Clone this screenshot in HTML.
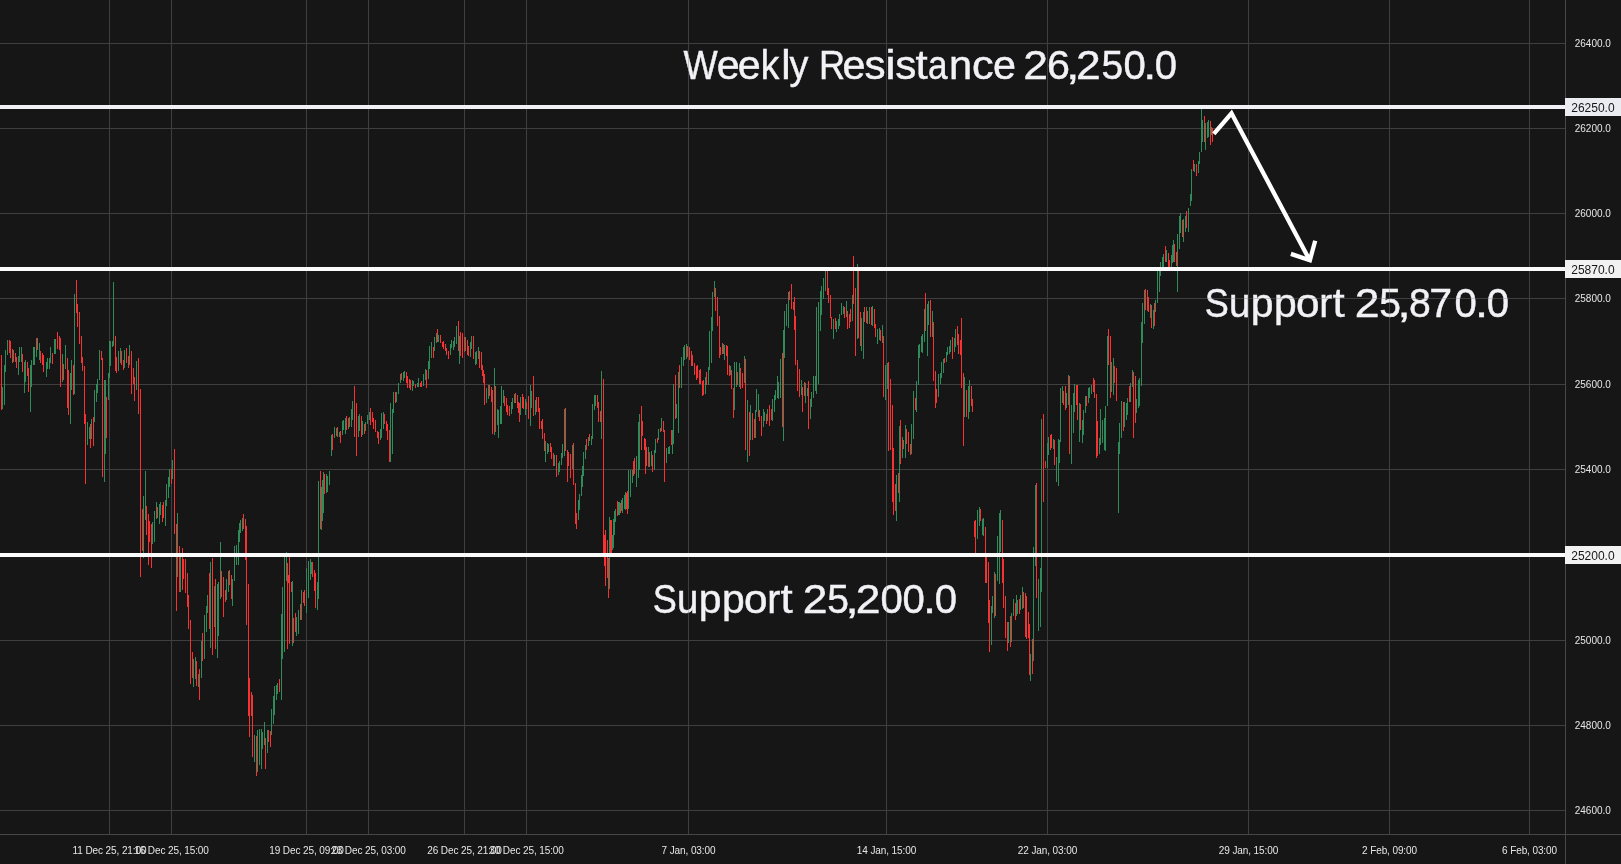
<!DOCTYPE html>
<html><head><meta charset="utf-8"><title>Chart</title>
<style>
html,body{margin:0;padding:0;background:#161616;}
body{width:1621px;height:864px;overflow:hidden;font-family:"Liberation Sans",sans-serif;}
svg{display:block;will-change:transform;}
.g{stroke:rgba(132,132,132,0.38);stroke-width:1;shape-rendering:crispEdges;}
.a{stroke:#484848;stroke-width:1;shape-rendering:crispEdges;}
.r{fill:#f73232;shape-rendering:crispEdges;}
.u{fill:#2f8c5a;shape-rendering:crispEdges;}
.w{fill:#f1f1f6;shape-rendering:crispEdges;}
.pl{font-size:10px;fill:#e6e6e6;text-anchor:middle;}
.bl{font-size:12px;fill:#161616;text-anchor:middle;}
.big{fill:#f1f1f6;stroke:#f1f1f6;stroke-width:0.45;}
.tl{letter-spacing:-0.1px;}
</style></head>
<body>
<svg width="1621" height="864" viewBox="0 0 1621 864" font-family="Liberation Sans, sans-serif">
<rect x="0" y="0" width="1621" height="864" fill="#161616"/>
<g class="big" font-size="41">
<text y="79.3"><tspan x="683.4" textLength="34.18" lengthAdjust="spacingAndGlyphs">W</tspan><tspan x="716.7" textLength="22.94" lengthAdjust="spacingAndGlyphs">e</tspan><tspan x="737.7" textLength="22.94" lengthAdjust="spacingAndGlyphs">e</tspan><tspan x="760.7" textLength="18.56" lengthAdjust="spacingAndGlyphs">k</tspan><tspan x="781.3" textLength="9.33" lengthAdjust="spacingAndGlyphs">l</tspan><tspan x="789.6" textLength="18.90" lengthAdjust="spacingAndGlyphs">y</tspan> <tspan x="818.9" textLength="26.12" lengthAdjust="spacingAndGlyphs">R</tspan><tspan x="842.6" textLength="22.94" lengthAdjust="spacingAndGlyphs">e</tspan><tspan x="864.6" textLength="21.11" lengthAdjust="spacingAndGlyphs">s</tspan><tspan x="885.2" textLength="10.48" lengthAdjust="spacingAndGlyphs">i</tspan><tspan x="895.2" textLength="21.11" lengthAdjust="spacingAndGlyphs">s</tspan><tspan x="915.5" textLength="12.21" lengthAdjust="spacingAndGlyphs">t</tspan><tspan x="928.1" textLength="19.57" lengthAdjust="spacingAndGlyphs">a</tspan><tspan x="949.1" textLength="23.13" lengthAdjust="spacingAndGlyphs">n</tspan><tspan x="972.0" textLength="21.59" lengthAdjust="spacingAndGlyphs">c</tspan><tspan x="992.9" textLength="22.94" lengthAdjust="spacingAndGlyphs">e</tspan> <tspan x="1023.2" textLength="24.74" lengthAdjust="spacingAndGlyphs">2</tspan><tspan x="1047.0" textLength="22.96" lengthAdjust="spacingAndGlyphs">6</tspan><tspan x="1066.3" textLength="13.10" lengthAdjust="spacingAndGlyphs">,</tspan><tspan x="1075.9" textLength="24.74" lengthAdjust="spacingAndGlyphs">2</tspan><tspan x="1101.4" textLength="21.71" lengthAdjust="spacingAndGlyphs">5</tspan><tspan x="1123.5" textLength="22.31" lengthAdjust="spacingAndGlyphs">0</tspan><tspan x="1143.3" textLength="13.10" lengthAdjust="spacingAndGlyphs">.</tspan><tspan x="1154.7" textLength="22.31" lengthAdjust="spacingAndGlyphs">0</tspan></text>
<text y="316.9"><tspan x="1204.7" textLength="24.08" lengthAdjust="spacingAndGlyphs">S</tspan><tspan x="1229.1" textLength="21.34" lengthAdjust="spacingAndGlyphs">u</tspan><tspan x="1250.8" textLength="22.73" lengthAdjust="spacingAndGlyphs">p</tspan><tspan x="1274.0" textLength="22.73" lengthAdjust="spacingAndGlyphs">p</tspan><tspan x="1296.0" textLength="23.52" lengthAdjust="spacingAndGlyphs">o</tspan><tspan x="1319.2" textLength="13.06" lengthAdjust="spacingAndGlyphs">r</tspan><tspan x="1332.5" textLength="12.21" lengthAdjust="spacingAndGlyphs">t</tspan> <tspan x="1354.8" textLength="24.74" lengthAdjust="spacingAndGlyphs">2</tspan><tspan x="1379.3" textLength="21.71" lengthAdjust="spacingAndGlyphs">5</tspan><tspan x="1397.6" textLength="13.10" lengthAdjust="spacingAndGlyphs">,</tspan><tspan x="1409.0" textLength="21.78" lengthAdjust="spacingAndGlyphs">8</tspan><tspan x="1429.3" textLength="22.85" lengthAdjust="spacingAndGlyphs">7</tspan><tspan x="1454.5" textLength="22.31" lengthAdjust="spacingAndGlyphs">0</tspan><tspan x="1474.9" textLength="13.10" lengthAdjust="spacingAndGlyphs">.</tspan><tspan x="1486.8" textLength="22.31" lengthAdjust="spacingAndGlyphs">0</tspan></text>
<text y="612.7"><tspan x="652.7" textLength="24.08" lengthAdjust="spacingAndGlyphs">S</tspan><tspan x="677.1" textLength="21.34" lengthAdjust="spacingAndGlyphs">u</tspan><tspan x="698.8" textLength="22.73" lengthAdjust="spacingAndGlyphs">p</tspan><tspan x="722.0" textLength="22.73" lengthAdjust="spacingAndGlyphs">p</tspan><tspan x="744.0" textLength="23.52" lengthAdjust="spacingAndGlyphs">o</tspan><tspan x="767.2" textLength="13.06" lengthAdjust="spacingAndGlyphs">r</tspan><tspan x="780.5" textLength="12.21" lengthAdjust="spacingAndGlyphs">t</tspan> <tspan x="802.7" textLength="24.74" lengthAdjust="spacingAndGlyphs">2</tspan><tspan x="827.3" textLength="21.71" lengthAdjust="spacingAndGlyphs">5</tspan><tspan x="845.6" textLength="13.10" lengthAdjust="spacingAndGlyphs">,</tspan><tspan x="855.8" textLength="24.74" lengthAdjust="spacingAndGlyphs">2</tspan><tspan x="880.4" textLength="22.31" lengthAdjust="spacingAndGlyphs">0</tspan><tspan x="902.5" textLength="22.31" lengthAdjust="spacingAndGlyphs">0</tspan><tspan x="922.9" textLength="13.10" lengthAdjust="spacingAndGlyphs">.</tspan><tspan x="934.8" textLength="22.31" lengthAdjust="spacingAndGlyphs">0</tspan></text>
</g>
<path class="g" fill="none" d="M109.5 0V834M171.5 0V834M306.5 0V834M368.5 0V834M464.5 0V834M526.5 0V834M688.5 0V834M886.5 0V834M1047.5 0V834M1248.5 0V834M1389.5 0V834M1529.5 0V834M0 43.5H1565M0 128.5H1565M0 213.5H1565M0 298.5H1565M0 384.5H1565M0 469.5H1565M0 554.5H1565M0 640.5H1565M0 725.5H1565M0 810.5H1565"/>
<g class="a"><line x1="0" y1="834.5" x2="1621" y2="834.5"/><line x1="1565.5" y1="0" x2="1565.5" y2="864"/></g>
<g>
<rect class="r" x="1" y="355" width="1" height="55"/><rect class="u" x="2" y="387" width="1" height="22"/><rect class="u" x="4" y="365" width="1" height="40"/><rect class="u" x="5" y="350" width="1" height="22"/><rect class="u" x="7" y="340" width="1" height="15"/><rect class="r" x="9" y="340" width="1" height="13"/><rect class="r" x="10" y="341" width="1" height="17"/><rect class="r" x="12" y="349" width="1" height="14"/>
<rect class="u" x="13" y="350" width="1" height="12"/><rect class="r" x="15" y="353" width="1" height="9"/><rect class="r" x="16" y="357" width="1" height="11"/><rect class="u" x="18" y="356" width="1" height="19"/><rect class="u" x="19" y="347" width="1" height="15"/><rect class="u" x="21" y="347" width="1" height="15"/><rect class="r" x="22" y="354" width="1" height="18"/><rect class="u" x="24" y="362" width="1" height="31"/>
<rect class="u" x="25" y="360" width="1" height="22"/><rect class="r" x="27" y="362" width="1" height="14"/><rect class="r" x="28" y="368" width="1" height="24"/><rect class="u" x="30" y="365" width="1" height="47"/><rect class="u" x="31" y="360" width="1" height="27"/><rect class="u" x="33" y="347" width="1" height="18"/><rect class="u" x="34" y="347" width="1" height="18"/><rect class="u" x="36" y="338" width="1" height="19"/>
<rect class="r" x="37" y="338" width="1" height="12"/><rect class="u" x="39" y="343" width="1" height="17"/><rect class="r" x="40" y="351" width="1" height="12"/><rect class="r" x="42" y="353" width="1" height="12"/><rect class="r" x="43" y="355" width="1" height="17"/><rect class="u" x="46" y="362" width="1" height="15"/><rect class="u" x="47" y="358" width="1" height="11"/><rect class="u" x="49" y="358" width="1" height="11"/>
<rect class="u" x="50" y="347" width="1" height="16"/><rect class="r" x="52" y="353" width="1" height="11"/><rect class="u" x="54" y="339" width="1" height="15"/><rect class="u" x="55" y="339" width="1" height="15"/><rect class="r" x="57" y="332" width="1" height="17"/><rect class="r" x="59" y="336" width="1" height="14"/><rect class="r" x="60" y="338" width="1" height="49"/><rect class="u" x="62" y="354" width="1" height="28"/>
<rect class="r" x="63" y="364" width="1" height="16"/><rect class="u" x="65" y="345" width="1" height="24"/><rect class="r" x="67" y="358" width="1" height="50"/><rect class="r" x="68" y="370" width="1" height="45"/><rect class="u" x="70" y="373" width="1" height="51"/><rect class="u" x="71" y="360" width="1" height="30"/><rect class="r" x="73" y="365" width="1" height="30"/><rect class="u" x="74" y="294" width="1" height="100"/>
<rect class="r" x="76" y="280" width="1" height="33"/><rect class="r" x="77" y="304" width="1" height="23"/><rect class="r" x="79" y="312" width="1" height="32"/><rect class="r" x="81" y="336" width="1" height="27"/><rect class="r" x="82" y="357" width="1" height="14"/><rect class="r" x="84" y="366" width="1" height="58"/><rect class="r" x="85" y="414" width="1" height="70"/><rect class="u" x="87" y="422" width="1" height="23"/>
<rect class="u" x="89" y="427" width="1" height="12"/><rect class="r" x="90" y="424" width="1" height="24"/><rect class="u" x="91" y="419" width="1" height="20"/><rect class="r" x="93" y="417" width="1" height="29"/><rect class="u" x="94" y="390" width="1" height="32"/><rect class="u" x="96" y="384" width="1" height="18"/><rect class="u" x="97" y="379" width="1" height="14"/><rect class="u" x="99" y="350" width="1" height="30"/>
<rect class="r" x="101" y="351" width="1" height="9"/><rect class="r" x="102" y="358" width="1" height="119"/><rect class="u" x="104" y="380" width="1" height="102"/><rect class="u" x="105" y="380" width="1" height="74"/><rect class="r" x="106" y="397" width="1" height="41"/><rect class="u" x="108" y="373" width="1" height="27"/><rect class="u" x="109" y="341" width="1" height="37"/><rect class="u" x="110" y="341" width="1" height="25"/>
<rect class="u" x="112" y="341" width="1" height="6"/><rect class="u" x="113" y="282" width="1" height="64"/><rect class="r" x="115" y="336" width="1" height="35"/><rect class="r" x="116" y="357" width="1" height="16"/><rect class="u" x="118" y="351" width="1" height="20"/><rect class="u" x="120" y="348" width="1" height="15"/><rect class="r" x="121" y="351" width="1" height="14"/><rect class="r" x="123" y="360" width="1" height="10"/>
<rect class="u" x="124" y="350" width="1" height="18"/><rect class="r" x="126" y="348" width="1" height="15"/><rect class="r" x="128" y="356" width="1" height="12"/><rect class="u" x="129" y="345" width="1" height="20"/><rect class="r" x="131" y="351" width="1" height="43"/><rect class="r" x="133" y="368" width="1" height="16"/><rect class="r" x="134" y="377" width="1" height="24"/><rect class="u" x="136" y="361" width="1" height="29"/>
<rect class="r" x="138" y="358" width="1" height="56"/><rect class="r" x="140" y="389" width="1" height="188"/><rect class="r" x="142" y="509" width="1" height="42"/><rect class="u" x="143" y="496" width="1" height="62"/><rect class="u" x="145" y="471" width="1" height="49"/><rect class="r" x="146" y="506" width="1" height="29"/><rect class="r" x="148" y="514" width="1" height="51"/><rect class="r" x="149" y="521" width="1" height="21"/>
<rect class="r" x="151" y="524" width="1" height="44"/><rect class="u" x="152" y="522" width="1" height="22"/><rect class="u" x="154" y="511" width="1" height="31"/><rect class="u" x="156" y="502" width="1" height="17"/><rect class="r" x="157" y="507" width="1" height="11"/><rect class="u" x="159" y="504" width="1" height="20"/><rect class="u" x="160" y="502" width="1" height="13"/><rect class="r" x="162" y="505" width="1" height="17"/>
<rect class="r" x="163" y="502" width="1" height="16"/><rect class="u" x="165" y="500" width="1" height="26"/><rect class="u" x="166" y="484" width="1" height="22"/><rect class="u" x="168" y="477" width="1" height="21"/><rect class="u" x="169" y="469" width="1" height="18"/><rect class="r" x="171" y="469" width="1" height="15"/><rect class="u" x="172" y="460" width="1" height="19"/><rect class="r" x="174" y="449" width="1" height="85"/>
<rect class="r" x="176" y="524" width="1" height="87"/><rect class="u" x="177" y="513" width="1" height="64"/><rect class="r" x="179" y="546" width="1" height="46"/><rect class="u" x="180" y="556" width="1" height="36"/><rect class="r" x="182" y="548" width="1" height="42"/><rect class="r" x="183" y="559" width="1" height="20"/><rect class="r" x="185" y="559" width="1" height="34"/><rect class="r" x="187" y="573" width="1" height="34"/>
<rect class="r" x="188" y="595" width="1" height="34"/><rect class="r" x="190" y="620" width="1" height="64"/><rect class="r" x="192" y="652" width="1" height="26"/><rect class="u" x="193" y="659" width="1" height="28"/><rect class="u" x="195" y="657" width="1" height="22"/><rect class="r" x="196" y="661" width="1" height="25"/><rect class="u" x="198" y="674" width="1" height="13"/><rect class="r" x="199" y="669" width="1" height="31"/>
<rect class="u" x="201" y="641" width="1" height="37"/><rect class="r" x="202" y="633" width="1" height="28"/><rect class="u" x="204" y="615" width="1" height="44"/><rect class="u" x="206" y="606" width="1" height="26"/><rect class="u" x="207" y="595" width="1" height="18"/><rect class="r" x="209" y="573" width="1" height="56"/><rect class="u" x="210" y="562" width="1" height="86"/><rect class="r" x="212" y="558" width="1" height="97"/>
<rect class="u" x="214" y="586" width="1" height="41"/><rect class="r" x="215" y="579" width="1" height="70"/><rect class="u" x="217" y="584" width="1" height="74"/><rect class="u" x="218" y="582" width="1" height="54"/><rect class="u" x="220" y="542" width="1" height="57"/><rect class="r" x="221" y="571" width="1" height="26"/><rect class="r" x="223" y="577" width="1" height="40"/><rect class="r" x="225" y="590" width="1" height="12"/>
<rect class="u" x="226" y="579" width="1" height="21"/><rect class="u" x="228" y="571" width="1" height="21"/><rect class="r" x="229" y="570" width="1" height="15"/><rect class="r" x="231" y="575" width="1" height="24"/><rect class="u" x="232" y="579" width="1" height="27"/><rect class="u" x="234" y="546" width="1" height="35"/><rect class="u" x="236" y="545" width="1" height="20"/><rect class="u" x="238" y="530" width="1" height="35"/>
<rect class="u" x="239" y="523" width="1" height="19"/><rect class="u" x="240" y="520" width="1" height="13"/><rect class="u" x="242" y="518" width="1" height="13"/><rect class="r" x="243" y="514" width="1" height="15"/><rect class="r" x="245" y="519" width="1" height="41"/><rect class="r" x="246" y="526" width="1" height="99"/><rect class="r" x="248" y="584" width="1" height="132"/><rect class="r" x="249" y="678" width="1" height="59"/>
<rect class="r" x="251" y="692" width="1" height="24"/><rect class="r" x="252" y="695" width="1" height="62"/><rect class="u" x="254" y="735" width="1" height="27"/><rect class="r" x="256" y="736" width="1" height="40"/><rect class="u" x="257" y="730" width="1" height="42"/><rect class="u" x="259" y="729" width="1" height="36"/><rect class="u" x="261" y="729" width="1" height="40"/><rect class="u" x="262" y="732" width="1" height="17"/>
<rect class="u" x="264" y="722" width="1" height="23"/><rect class="r" x="265" y="738" width="1" height="31"/><rect class="u" x="267" y="730" width="1" height="23"/><rect class="r" x="268" y="730" width="1" height="12"/><rect class="r" x="270" y="731" width="1" height="16"/><rect class="u" x="271" y="709" width="1" height="26"/><rect class="u" x="273" y="696" width="1" height="28"/><rect class="u" x="274" y="686" width="1" height="29"/>
<rect class="u" x="276" y="685" width="1" height="15"/><rect class="u" x="277" y="683" width="1" height="11"/><rect class="r" x="279" y="679" width="1" height="13"/><rect class="u" x="281" y="614" width="1" height="86"/><rect class="u" x="282" y="587" width="1" height="72"/><rect class="u" x="284" y="557" width="1" height="95"/><rect class="u" x="286" y="552" width="1" height="29"/><rect class="r" x="287" y="563" width="1" height="86"/>
<rect class="r" x="288" y="575" width="1" height="8"/><rect class="r" x="289" y="557" width="1" height="87"/><rect class="r" x="291" y="582" width="1" height="10"/><rect class="u" x="292" y="581" width="1" height="65"/><rect class="r" x="293" y="618" width="1" height="25"/><rect class="r" x="295" y="613" width="1" height="19"/><rect class="u" x="296" y="617" width="1" height="19"/><rect class="u" x="298" y="610" width="1" height="24"/>
<rect class="r" x="300" y="604" width="1" height="16"/><rect class="u" x="301" y="590" width="1" height="30"/><rect class="r" x="303" y="592" width="1" height="11"/><rect class="r" x="304" y="590" width="1" height="16"/><rect class="u" x="306" y="568" width="1" height="45"/><rect class="u" x="308" y="561" width="1" height="37"/><rect class="u" x="310" y="559" width="1" height="21"/><rect class="u" x="311" y="562" width="1" height="12"/>
<rect class="r" x="312" y="562" width="1" height="15"/><rect class="r" x="314" y="570" width="1" height="21"/><rect class="r" x="315" y="573" width="1" height="35"/><rect class="u" x="317" y="582" width="1" height="28"/><rect class="u" x="318" y="481" width="1" height="118"/><rect class="r" x="320" y="471" width="1" height="58"/><rect class="u" x="321" y="487" width="1" height="43"/><rect class="u" x="322" y="480" width="1" height="41"/>
<rect class="u" x="323" y="472" width="1" height="41"/><rect class="r" x="324" y="474" width="1" height="20"/><rect class="u" x="326" y="474" width="1" height="19"/><rect class="u" x="327" y="476" width="1" height="16"/><rect class="u" x="329" y="471" width="1" height="14"/><rect class="u" x="331" y="435" width="1" height="21"/><rect class="r" x="332" y="434" width="1" height="16"/><rect class="u" x="334" y="427" width="1" height="11"/>
<rect class="u" x="336" y="428" width="1" height="8"/><rect class="r" x="337" y="427" width="1" height="10"/><rect class="u" x="339" y="432" width="1" height="5"/><rect class="r" x="340" y="431" width="1" height="12"/><rect class="u" x="342" y="421" width="1" height="14"/><rect class="u" x="343" y="420" width="1" height="10"/><rect class="u" x="345" y="418" width="1" height="16"/><rect class="r" x="346" y="416" width="1" height="14"/>
<rect class="u" x="348" y="418" width="1" height="11"/><rect class="r" x="349" y="417" width="1" height="10"/><rect class="u" x="351" y="409" width="1" height="18"/><rect class="u" x="352" y="401" width="1" height="19"/><rect class="r" x="354" y="386" width="1" height="51"/><rect class="r" x="356" y="403" width="1" height="53"/><rect class="u" x="358" y="416" width="1" height="21"/><rect class="u" x="359" y="414" width="1" height="17"/>
<rect class="r" x="361" y="416" width="1" height="21"/><rect class="u" x="362" y="421" width="1" height="14"/><rect class="r" x="364" y="424" width="1" height="10"/><rect class="u" x="365" y="422" width="1" height="9"/><rect class="u" x="367" y="415" width="1" height="9"/><rect class="u" x="369" y="412" width="1" height="8"/><rect class="r" x="370" y="408" width="1" height="17"/><rect class="r" x="372" y="412" width="1" height="10"/>
<rect class="r" x="373" y="418" width="1" height="11"/><rect class="r" x="375" y="420" width="1" height="12"/><rect class="r" x="377" y="431" width="1" height="7"/><rect class="r" x="378" y="432" width="1" height="12"/><rect class="u" x="380" y="429" width="1" height="11"/><rect class="u" x="381" y="413" width="1" height="25"/><rect class="u" x="383" y="412" width="1" height="17"/><rect class="r" x="384" y="414" width="1" height="10"/>
<rect class="r" x="386" y="421" width="1" height="10"/><rect class="r" x="387" y="424" width="1" height="16"/><rect class="r" x="389" y="430" width="1" height="32"/><rect class="u" x="390" y="403" width="1" height="59"/><rect class="u" x="392" y="409" width="1" height="45"/><rect class="u" x="393" y="392" width="1" height="21"/><rect class="r" x="395" y="392" width="1" height="11"/><rect class="u" x="396" y="392" width="1" height="10"/>
<rect class="u" x="398" y="383" width="1" height="11"/><rect class="u" x="400" y="374" width="1" height="9"/><rect class="r" x="401" y="373" width="1" height="7"/><rect class="u" x="403" y="372" width="1" height="9"/><rect class="u" x="404" y="371" width="1" height="7"/><rect class="r" x="406" y="372" width="1" height="11"/><rect class="r" x="407" y="376" width="1" height="12"/><rect class="r" x="409" y="379" width="1" height="9"/>
<rect class="r" x="410" y="380" width="1" height="10"/><rect class="u" x="412" y="380" width="1" height="11"/><rect class="u" x="413" y="381" width="1" height="5"/><rect class="r" x="415" y="384" width="1" height="4"/><rect class="u" x="417" y="383" width="1" height="4"/><rect class="u" x="418" y="378" width="1" height="9"/><rect class="r" x="420" y="383" width="1" height="4"/><rect class="r" x="421" y="381" width="1" height="6"/>
<rect class="u" x="423" y="374" width="1" height="12"/><rect class="u" x="425" y="369" width="1" height="11"/><rect class="r" x="426" y="370" width="1" height="18"/><rect class="u" x="428" y="361" width="1" height="18"/><rect class="u" x="429" y="346" width="1" height="23"/><rect class="u" x="431" y="342" width="1" height="16"/><rect class="r" x="433" y="347" width="1" height="11"/><rect class="u" x="434" y="337" width="1" height="14"/>
<rect class="u" x="436" y="333" width="1" height="10"/><rect class="r" x="437" y="329" width="1" height="13"/><rect class="u" x="438" y="335" width="1" height="7"/><rect class="r" x="440" y="335" width="1" height="8"/><rect class="r" x="442" y="342" width="1" height="5"/><rect class="r" x="443" y="341" width="1" height="8"/><rect class="r" x="445" y="344" width="1" height="7"/><rect class="r" x="446" y="348" width="1" height="7"/>
<rect class="r" x="448" y="351" width="1" height="8"/><rect class="u" x="450" y="344" width="1" height="11"/><rect class="u" x="451" y="340" width="1" height="8"/><rect class="u" x="453" y="341" width="1" height="9"/><rect class="u" x="454" y="337" width="1" height="10"/><rect class="u" x="456" y="326" width="1" height="18"/><rect class="r" x="458" y="321" width="1" height="30"/><rect class="u" x="459" y="336" width="1" height="28"/>
<rect class="r" x="460" y="332" width="1" height="24"/><rect class="r" x="462" y="333" width="1" height="25"/><rect class="u" x="464" y="337" width="1" height="15"/><rect class="r" x="465" y="337" width="1" height="14"/><rect class="r" x="467" y="340" width="1" height="15"/><rect class="r" x="468" y="346" width="1" height="10"/><rect class="u" x="470" y="342" width="1" height="15"/><rect class="u" x="471" y="336" width="1" height="13"/>
<rect class="r" x="473" y="336" width="1" height="23"/><rect class="u" x="475" y="352" width="1" height="13"/><rect class="u" x="476" y="351" width="1" height="13"/><rect class="u" x="478" y="347" width="1" height="12"/><rect class="r" x="479" y="351" width="1" height="17"/><rect class="r" x="481" y="352" width="1" height="18"/><rect class="r" x="482" y="365" width="1" height="11"/><rect class="r" x="483" y="370" width="1" height="13"/>
<rect class="r" x="484" y="374" width="1" height="31"/><rect class="u" x="486" y="388" width="1" height="15"/><rect class="u" x="488" y="385" width="1" height="14"/><rect class="r" x="489" y="385" width="1" height="11"/><rect class="r" x="491" y="387" width="1" height="15"/><rect class="r" x="492" y="390" width="1" height="44"/><rect class="u" x="494" y="368" width="1" height="67"/><rect class="r" x="495" y="386" width="1" height="46"/>
<rect class="u" x="497" y="409" width="1" height="16"/><rect class="u" x="498" y="410" width="1" height="28"/><rect class="u" x="500" y="406" width="1" height="18"/><rect class="u" x="501" y="386" width="1" height="38"/><rect class="u" x="503" y="390" width="1" height="13"/><rect class="r" x="504" y="396" width="1" height="10"/><rect class="r" x="506" y="398" width="1" height="14"/><rect class="r" x="507" y="405" width="1" height="10"/>
<rect class="r" x="509" y="406" width="1" height="10"/><rect class="u" x="511" y="402" width="1" height="12"/><rect class="u" x="512" y="398" width="1" height="11"/><rect class="u" x="514" y="394" width="1" height="9"/><rect class="r" x="515" y="393" width="1" height="10"/><rect class="r" x="517" y="395" width="1" height="13"/><rect class="r" x="518" y="402" width="1" height="11"/><rect class="r" x="519" y="403" width="1" height="19"/>
<rect class="u" x="520" y="397" width="1" height="18"/><rect class="r" x="522" y="394" width="1" height="14"/><rect class="r" x="523" y="397" width="1" height="12"/><rect class="u" x="525" y="399" width="1" height="16"/><rect class="r" x="526" y="402" width="1" height="7"/><rect class="r" x="528" y="396" width="1" height="23"/><rect class="u" x="530" y="385" width="1" height="41"/><rect class="u" x="531" y="391" width="1" height="17"/>
<rect class="r" x="533" y="376" width="1" height="40"/><rect class="u" x="535" y="400" width="1" height="15"/><rect class="r" x="536" y="397" width="1" height="15"/><rect class="r" x="538" y="397" width="1" height="15"/><rect class="r" x="539" y="408" width="1" height="21"/><rect class="r" x="541" y="421" width="1" height="8"/><rect class="r" x="542" y="419" width="1" height="20"/><rect class="r" x="544" y="433" width="1" height="18"/>
<rect class="u" x="545" y="441" width="1" height="21"/><rect class="u" x="547" y="443" width="1" height="11"/><rect class="u" x="548" y="444" width="1" height="8"/><rect class="r" x="550" y="443" width="1" height="9"/><rect class="r" x="551" y="447" width="1" height="12"/><rect class="r" x="553" y="453" width="1" height="13"/><rect class="u" x="554" y="455" width="1" height="11"/><rect class="r" x="556" y="455" width="1" height="22"/>
<rect class="u" x="558" y="463" width="1" height="12"/><rect class="u" x="559" y="461" width="1" height="11"/><rect class="u" x="561" y="453" width="1" height="12"/><rect class="u" x="562" y="444" width="1" height="14"/><rect class="u" x="564" y="409" width="1" height="47"/><rect class="r" x="565" y="408" width="1" height="43"/><rect class="r" x="567" y="450" width="1" height="32"/><rect class="r" x="568" y="452" width="1" height="14"/>
<rect class="r" x="570" y="454" width="1" height="24"/><rect class="u" x="572" y="445" width="1" height="24"/><rect class="r" x="573" y="443" width="1" height="42"/><rect class="r" x="575" y="483" width="1" height="41"/><rect class="r" x="576" y="513" width="1" height="16"/><rect class="u" x="578" y="500" width="1" height="20"/><rect class="u" x="579" y="494" width="1" height="16"/><rect class="u" x="581" y="475" width="1" height="21"/>
<rect class="u" x="582" y="466" width="1" height="21"/><rect class="u" x="583" y="452" width="1" height="24"/><rect class="u" x="585" y="445" width="1" height="14"/><rect class="r" x="586" y="439" width="1" height="11"/><rect class="u" x="588" y="437" width="1" height="9"/><rect class="r" x="589" y="434" width="1" height="7"/><rect class="u" x="591" y="436" width="1" height="9"/><rect class="u" x="592" y="404" width="1" height="35"/>
<rect class="u" x="594" y="395" width="1" height="15"/><rect class="u" x="595" y="395" width="1" height="11"/><rect class="r" x="597" y="395" width="1" height="13"/><rect class="r" x="598" y="402" width="1" height="20"/><rect class="r" x="600" y="411" width="1" height="11"/><rect class="u" x="601" y="371" width="1" height="68"/><rect class="r" x="603" y="379" width="1" height="175"/><rect class="r" x="604" y="535" width="1" height="31"/>
<rect class="r" x="605" y="530" width="1" height="56"/><rect class="r" x="607" y="540" width="1" height="38"/><rect class="r" x="608" y="558" width="1" height="40"/><rect class="u" x="609" y="517" width="1" height="72"/><rect class="r" x="610" y="520" width="1" height="34"/><rect class="r" x="611" y="520" width="1" height="33"/><rect class="u" x="612" y="535" width="1" height="15"/><rect class="u" x="613" y="519" width="1" height="29"/>
<rect class="u" x="614" y="511" width="1" height="24"/><rect class="u" x="615" y="509" width="1" height="13"/><rect class="r" x="617" y="501" width="1" height="15"/><rect class="u" x="618" y="502" width="1" height="13"/><rect class="u" x="619" y="502" width="1" height="13"/><rect class="r" x="620" y="503" width="1" height="10"/><rect class="u" x="621" y="500" width="1" height="11"/><rect class="u" x="622" y="498" width="1" height="15"/>
<rect class="u" x="624" y="495" width="1" height="14"/><rect class="u" x="625" y="492" width="1" height="18"/><rect class="r" x="626" y="493" width="1" height="16"/><rect class="r" x="627" y="491" width="1" height="23"/><rect class="u" x="628" y="470" width="1" height="39"/><rect class="u" x="630" y="470" width="1" height="27"/><rect class="u" x="632" y="470" width="1" height="13"/><rect class="r" x="633" y="461" width="1" height="15"/>
<rect class="r" x="634" y="458" width="1" height="16"/><rect class="u" x="636" y="456" width="1" height="31"/><rect class="u" x="638" y="422" width="1" height="56"/><rect class="u" x="639" y="414" width="1" height="56"/><rect class="r" x="641" y="406" width="1" height="44"/><rect class="r" x="642" y="421" width="1" height="15"/><rect class="r" x="644" y="438" width="1" height="12"/><rect class="r" x="645" y="439" width="1" height="35"/>
<rect class="r" x="646" y="447" width="1" height="19"/><rect class="u" x="648" y="447" width="1" height="20"/><rect class="r" x="649" y="452" width="1" height="15"/><rect class="u" x="651" y="451" width="1" height="15"/><rect class="r" x="652" y="455" width="1" height="17"/><rect class="u" x="654" y="450" width="1" height="20"/><rect class="u" x="655" y="439" width="1" height="14"/><rect class="r" x="657" y="438" width="1" height="5"/>
<rect class="u" x="658" y="429" width="1" height="11"/><rect class="r" x="660" y="428" width="1" height="4"/><rect class="u" x="661" y="418" width="1" height="13"/><rect class="r" x="663" y="421" width="1" height="11"/><rect class="r" x="664" y="430" width="1" height="52"/><rect class="u" x="666" y="448" width="1" height="15"/><rect class="u" x="668" y="447" width="1" height="7"/><rect class="u" x="669" y="446" width="1" height="8"/>
<rect class="r" x="671" y="430" width="1" height="15"/><rect class="u" x="672" y="430" width="1" height="24"/><rect class="u" x="673" y="384" width="1" height="60"/><rect class="r" x="675" y="375" width="1" height="44"/><rect class="u" x="676" y="404" width="1" height="14"/><rect class="u" x="678" y="372" width="1" height="61"/><rect class="r" x="679" y="365" width="1" height="23"/><rect class="u" x="681" y="357" width="1" height="31"/>
<rect class="u" x="683" y="347" width="1" height="19"/><rect class="u" x="684" y="345" width="1" height="15"/><rect class="u" x="686" y="344" width="1" height="15"/><rect class="r" x="687" y="346" width="1" height="11"/><rect class="r" x="689" y="347" width="1" height="13"/><rect class="r" x="691" y="351" width="1" height="15"/><rect class="r" x="692" y="355" width="1" height="11"/><rect class="r" x="694" y="363" width="1" height="12"/>
<rect class="r" x="696" y="366" width="1" height="14"/><rect class="r" x="697" y="365" width="1" height="13"/><rect class="r" x="699" y="370" width="1" height="14"/><rect class="r" x="700" y="369" width="1" height="15"/><rect class="r" x="702" y="381" width="1" height="15"/><rect class="r" x="703" y="380" width="1" height="15"/><rect class="u" x="705" y="377" width="1" height="17"/><rect class="r" x="706" y="372" width="1" height="13"/>
<rect class="u" x="708" y="367" width="1" height="18"/><rect class="u" x="709" y="331" width="1" height="39"/><rect class="u" x="711" y="317" width="1" height="46"/><rect class="u" x="712" y="292" width="1" height="39"/><rect class="u" x="714" y="281" width="1" height="16"/><rect class="r" x="715" y="288" width="1" height="23"/><rect class="r" x="717" y="297" width="1" height="29"/><rect class="r" x="719" y="316" width="1" height="42"/>
<rect class="r" x="720" y="347" width="1" height="8"/><rect class="r" x="722" y="343" width="1" height="11"/><rect class="u" x="723" y="344" width="1" height="10"/><rect class="u" x="724" y="345" width="1" height="15"/><rect class="r" x="726" y="345" width="1" height="11"/><rect class="r" x="727" y="346" width="1" height="29"/><rect class="r" x="729" y="365" width="1" height="11"/><rect class="u" x="730" y="366" width="1" height="9"/>
<rect class="r" x="731" y="370" width="1" height="19"/><rect class="r" x="733" y="388" width="1" height="30"/><rect class="u" x="734" y="362" width="1" height="48"/><rect class="u" x="736" y="362" width="1" height="25"/><rect class="r" x="737" y="372" width="1" height="13"/><rect class="u" x="739" y="363" width="1" height="24"/><rect class="r" x="740" y="368" width="1" height="21"/><rect class="r" x="742" y="373" width="1" height="15"/>
<rect class="u" x="744" y="356" width="1" height="27"/><rect class="r" x="745" y="359" width="1" height="91"/><rect class="u" x="747" y="400" width="1" height="62"/><rect class="r" x="749" y="412" width="1" height="44"/><rect class="u" x="750" y="405" width="1" height="35"/><rect class="r" x="752" y="413" width="1" height="27"/><rect class="r" x="754" y="419" width="1" height="19"/><rect class="u" x="755" y="410" width="1" height="28"/>
<rect class="u" x="756" y="389" width="1" height="23"/><rect class="u" x="758" y="394" width="1" height="23"/><rect class="r" x="759" y="410" width="1" height="11"/><rect class="r" x="761" y="416" width="1" height="20"/><rect class="u" x="763" y="409" width="1" height="18"/><rect class="u" x="764" y="412" width="1" height="9"/><rect class="r" x="766" y="414" width="1" height="10"/><rect class="u" x="767" y="409" width="1" height="12"/>
<rect class="r" x="769" y="405" width="1" height="21"/><rect class="r" x="771" y="409" width="1" height="11"/><rect class="u" x="772" y="399" width="1" height="22"/><rect class="u" x="774" y="395" width="1" height="17"/><rect class="u" x="775" y="390" width="1" height="10"/><rect class="u" x="777" y="376" width="1" height="22"/><rect class="u" x="778" y="382" width="1" height="17"/><rect class="u" x="780" y="359" width="1" height="39"/>
<rect class="r" x="782" y="353" width="1" height="74"/><rect class="u" x="783" y="330" width="1" height="111"/><rect class="u" x="784" y="311" width="1" height="47"/><rect class="u" x="786" y="304" width="1" height="22"/><rect class="u" x="788" y="292" width="1" height="36"/><rect class="r" x="789" y="291" width="1" height="9"/><rect class="r" x="791" y="284" width="1" height="25"/><rect class="r" x="793" y="302" width="1" height="8"/>
<rect class="r" x="794" y="297" width="1" height="33"/><rect class="r" x="795" y="316" width="1" height="49"/><rect class="r" x="797" y="360" width="1" height="31"/><rect class="r" x="799" y="369" width="1" height="28"/><rect class="u" x="801" y="380" width="1" height="15"/><rect class="r" x="802" y="387" width="1" height="25"/><rect class="r" x="804" y="382" width="1" height="14"/><rect class="u" x="805" y="383" width="1" height="20"/>
<rect class="u" x="807" y="388" width="1" height="8"/><rect class="r" x="808" y="381" width="1" height="48"/><rect class="u" x="810" y="399" width="1" height="20"/><rect class="u" x="811" y="392" width="1" height="15"/><rect class="u" x="813" y="376" width="1" height="22"/><rect class="u" x="815" y="376" width="1" height="15"/><rect class="u" x="816" y="307" width="1" height="87"/><rect class="u" x="818" y="302" width="1" height="82"/>
<rect class="u" x="820" y="291" width="1" height="40"/><rect class="u" x="821" y="286" width="1" height="29"/><rect class="u" x="823" y="278" width="1" height="21"/><rect class="u" x="825" y="271" width="1" height="20"/><rect class="r" x="827" y="271" width="1" height="24"/><rect class="r" x="828" y="288" width="1" height="15"/><rect class="r" x="830" y="295" width="1" height="23"/><rect class="r" x="831" y="317" width="1" height="12"/>
<rect class="u" x="833" y="319" width="1" height="20"/><rect class="r" x="835" y="318" width="1" height="11"/><rect class="u" x="836" y="321" width="1" height="11"/><rect class="u" x="838" y="319" width="1" height="10"/><rect class="u" x="839" y="314" width="1" height="12"/><rect class="u" x="841" y="303" width="1" height="12"/><rect class="u" x="843" y="306" width="1" height="8"/><rect class="r" x="844" y="307" width="1" height="11"/>
<rect class="u" x="846" y="301" width="1" height="16"/><rect class="r" x="847" y="311" width="1" height="18"/><rect class="r" x="849" y="314" width="1" height="14"/><rect class="r" x="850" y="309" width="1" height="13"/><rect class="u" x="852" y="295" width="1" height="26"/><rect class="r" x="853" y="256" width="1" height="48"/><rect class="r" x="855" y="288" width="1" height="68"/><rect class="u" x="857" y="264" width="1" height="75"/>
<rect class="r" x="858" y="271" width="1" height="67"/><rect class="r" x="860" y="312" width="1" height="34"/><rect class="u" x="861" y="318" width="1" height="33"/><rect class="u" x="863" y="312" width="1" height="47"/><rect class="r" x="864" y="307" width="1" height="15"/><rect class="u" x="866" y="307" width="1" height="16"/><rect class="r" x="867" y="311" width="1" height="13"/><rect class="u" x="869" y="307" width="1" height="17"/>
<rect class="r" x="871" y="307" width="1" height="18"/><rect class="u" x="872" y="306" width="1" height="20"/><rect class="r" x="874" y="309" width="1" height="19"/><rect class="r" x="875" y="324" width="1" height="13"/><rect class="u" x="877" y="329" width="1" height="15"/><rect class="u" x="879" y="328" width="1" height="12"/><rect class="r" x="880" y="330" width="1" height="11"/><rect class="u" x="882" y="325" width="1" height="18"/>
<rect class="r" x="883" y="336" width="1" height="61"/><rect class="u" x="885" y="365" width="1" height="35"/><rect class="u" x="887" y="363" width="1" height="26"/><rect class="r" x="888" y="362" width="1" height="89"/><rect class="r" x="890" y="379" width="1" height="71"/><rect class="r" x="892" y="405" width="1" height="97"/><rect class="r" x="893" y="448" width="1" height="67"/><rect class="r" x="895" y="484" width="1" height="27"/>
<rect class="u" x="896" y="475" width="1" height="46"/><rect class="r" x="898" y="473" width="1" height="20"/><rect class="u" x="899" y="426" width="1" height="76"/><rect class="r" x="900" y="420" width="1" height="44"/><rect class="u" x="902" y="437" width="1" height="21"/><rect class="r" x="903" y="440" width="1" height="9"/><rect class="u" x="905" y="425" width="1" height="33"/><rect class="r" x="906" y="429" width="1" height="15"/>
<rect class="r" x="908" y="432" width="1" height="20"/><rect class="r" x="910" y="444" width="1" height="11"/><rect class="u" x="911" y="424" width="1" height="30"/><rect class="u" x="913" y="391" width="1" height="48"/><rect class="r" x="915" y="398" width="1" height="12"/><rect class="u" x="916" y="381" width="1" height="31"/><rect class="u" x="918" y="345" width="1" height="40"/><rect class="u" x="919" y="344" width="1" height="14"/>
<rect class="u" x="921" y="336" width="1" height="16"/><rect class="u" x="922" y="334" width="1" height="19"/><rect class="u" x="924" y="309" width="1" height="33"/><rect class="r" x="925" y="293" width="1" height="38"/><rect class="u" x="927" y="304" width="1" height="52"/><rect class="u" x="928" y="301" width="1" height="24"/><rect class="r" x="930" y="300" width="1" height="37"/><rect class="u" x="932" y="311" width="1" height="26"/>
<rect class="r" x="933" y="322" width="1" height="59"/><rect class="r" x="935" y="371" width="1" height="37"/><rect class="r" x="936" y="389" width="1" height="14"/><rect class="u" x="938" y="374" width="1" height="23"/><rect class="u" x="940" y="373" width="1" height="11"/><rect class="u" x="941" y="362" width="1" height="16"/><rect class="u" x="943" y="359" width="1" height="14"/><rect class="r" x="944" y="358" width="1" height="5"/>
<rect class="u" x="946" y="352" width="1" height="10"/><rect class="u" x="947" y="347" width="1" height="8"/><rect class="u" x="949" y="346" width="1" height="8"/><rect class="u" x="950" y="340" width="1" height="12"/><rect class="r" x="952" y="337" width="1" height="22"/><rect class="u" x="954" y="338" width="1" height="14"/><rect class="u" x="955" y="329" width="1" height="18"/><rect class="r" x="957" y="326" width="1" height="19"/>
<rect class="r" x="958" y="334" width="1" height="20"/><rect class="r" x="960" y="340" width="1" height="15"/><rect class="r" x="961" y="318" width="1" height="70"/><rect class="r" x="963" y="373" width="1" height="73"/><rect class="u" x="964" y="377" width="1" height="40"/><rect class="r" x="966" y="390" width="1" height="27"/><rect class="u" x="968" y="386" width="1" height="33"/><rect class="u" x="969" y="380" width="1" height="32"/>
<rect class="r" x="971" y="386" width="1" height="20"/><rect class="r" x="972" y="399" width="1" height="13"/><rect class="r" x="974" y="521" width="1" height="16"/><rect class="r" x="975" y="520" width="1" height="34"/><rect class="u" x="977" y="510" width="1" height="29"/><rect class="u" x="979" y="507" width="1" height="19"/><rect class="r" x="980" y="509" width="1" height="12"/><rect class="u" x="982" y="519" width="1" height="16"/>
<rect class="u" x="983" y="518" width="1" height="18"/><rect class="r" x="985" y="527" width="1" height="56"/><rect class="r" x="986" y="556" width="1" height="27"/><rect class="r" x="988" y="562" width="1" height="61"/><rect class="r" x="989" y="600" width="1" height="52"/><rect class="u" x="991" y="606" width="1" height="39"/><rect class="u" x="992" y="596" width="1" height="17"/><rect class="u" x="994" y="572" width="1" height="46"/>
<rect class="r" x="995" y="574" width="1" height="42"/><rect class="u" x="997" y="536" width="1" height="45"/><rect class="u" x="999" y="513" width="1" height="71"/><rect class="u" x="1000" y="510" width="1" height="42"/><rect class="r" x="1002" y="520" width="1" height="63"/><rect class="r" x="1003" y="559" width="1" height="49"/><rect class="r" x="1005" y="596" width="1" height="42"/><rect class="r" x="1007" y="622" width="1" height="29"/>
<rect class="u" x="1008" y="622" width="1" height="21"/><rect class="r" x="1010" y="616" width="1" height="31"/><rect class="u" x="1011" y="613" width="1" height="29"/><rect class="u" x="1013" y="599" width="1" height="17"/><rect class="r" x="1015" y="603" width="1" height="17"/><rect class="u" x="1016" y="595" width="1" height="21"/><rect class="u" x="1017" y="600" width="1" height="14"/><rect class="r" x="1019" y="599" width="1" height="15"/>
<rect class="u" x="1020" y="595" width="1" height="15"/><rect class="u" x="1022" y="587" width="1" height="22"/><rect class="r" x="1023" y="592" width="1" height="16"/><rect class="r" x="1025" y="593" width="1" height="44"/><rect class="r" x="1026" y="596" width="1" height="43"/><rect class="r" x="1028" y="612" width="1" height="26"/><rect class="r" x="1029" y="624" width="1" height="51"/><rect class="u" x="1030" y="654" width="1" height="27"/>
<rect class="r" x="1032" y="639" width="1" height="35"/><rect class="u" x="1033" y="547" width="1" height="114"/><rect class="u" x="1035" y="485" width="1" height="81"/><rect class="r" x="1036" y="483" width="1" height="115"/><rect class="u" x="1038" y="579" width="1" height="52"/><rect class="u" x="1040" y="568" width="1" height="59"/><rect class="u" x="1041" y="419" width="1" height="173"/><rect class="r" x="1043" y="414" width="1" height="88"/>
<rect class="r" x="1045" y="461" width="1" height="7"/><rect class="u" x="1047" y="443" width="1" height="25"/><rect class="u" x="1048" y="437" width="1" height="18"/><rect class="r" x="1050" y="435" width="1" height="15"/><rect class="r" x="1051" y="434" width="1" height="14"/><rect class="u" x="1053" y="439" width="1" height="10"/><rect class="r" x="1054" y="440" width="1" height="25"/><rect class="u" x="1056" y="457" width="1" height="25"/>
<rect class="u" x="1058" y="439" width="1" height="47"/><rect class="u" x="1059" y="440" width="1" height="23"/><rect class="u" x="1060" y="388" width="1" height="54"/><rect class="u" x="1062" y="386" width="1" height="17"/><rect class="r" x="1063" y="391" width="1" height="14"/><rect class="r" x="1065" y="386" width="1" height="24"/><rect class="u" x="1066" y="393" width="1" height="15"/><rect class="u" x="1068" y="375" width="1" height="30"/>
<rect class="r" x="1069" y="376" width="1" height="78"/><rect class="u" x="1071" y="405" width="1" height="59"/><rect class="u" x="1073" y="393" width="1" height="40"/><rect class="u" x="1074" y="384" width="1" height="28"/><rect class="r" x="1076" y="385" width="1" height="20"/><rect class="r" x="1077" y="385" width="1" height="35"/><rect class="u" x="1079" y="403" width="1" height="39"/><rect class="r" x="1080" y="404" width="1" height="26"/>
<rect class="u" x="1082" y="420" width="1" height="23"/><rect class="u" x="1083" y="410" width="1" height="25"/><rect class="u" x="1085" y="396" width="1" height="17"/><rect class="r" x="1086" y="396" width="1" height="10"/><rect class="u" x="1088" y="388" width="1" height="15"/><rect class="u" x="1089" y="387" width="1" height="11"/><rect class="u" x="1091" y="385" width="1" height="9"/><rect class="r" x="1093" y="378" width="1" height="14"/>
<rect class="r" x="1094" y="380" width="1" height="18"/><rect class="r" x="1096" y="394" width="1" height="64"/><rect class="r" x="1097" y="421" width="1" height="35"/><rect class="u" x="1099" y="438" width="1" height="16"/><rect class="u" x="1100" y="409" width="1" height="36"/><rect class="u" x="1102" y="420" width="1" height="23"/><rect class="u" x="1104" y="418" width="1" height="32"/><rect class="u" x="1105" y="406" width="1" height="45"/>
<rect class="u" x="1107" y="336" width="1" height="70"/><rect class="r" x="1108" y="329" width="1" height="36"/><rect class="r" x="1110" y="336" width="1" height="62"/><rect class="u" x="1111" y="362" width="1" height="30"/><rect class="u" x="1113" y="358" width="1" height="37"/><rect class="r" x="1114" y="366" width="1" height="17"/><rect class="r" x="1116" y="368" width="1" height="33"/><rect class="u" x="1118" y="442" width="1" height="71"/>
<rect class="u" x="1119" y="423" width="1" height="31"/><rect class="u" x="1121" y="401" width="1" height="37"/><rect class="r" x="1123" y="402" width="1" height="29"/><rect class="u" x="1124" y="402" width="1" height="25"/><rect class="u" x="1126" y="403" width="1" height="17"/><rect class="u" x="1127" y="398" width="1" height="17"/><rect class="r" x="1129" y="386" width="1" height="16"/><rect class="u" x="1130" y="383" width="1" height="19"/>
<rect class="u" x="1132" y="370" width="1" height="17"/><rect class="r" x="1133" y="372" width="1" height="66"/><rect class="r" x="1135" y="376" width="1" height="47"/><rect class="u" x="1136" y="399" width="1" height="14"/><rect class="u" x="1138" y="380" width="1" height="28"/><rect class="u" x="1139" y="378" width="1" height="28"/><rect class="u" x="1141" y="322" width="1" height="64"/><rect class="u" x="1142" y="303" width="1" height="40"/>
<rect class="u" x="1144" y="290" width="1" height="34"/><rect class="r" x="1145" y="289" width="1" height="21"/><rect class="r" x="1147" y="290" width="1" height="21"/><rect class="r" x="1148" y="297" width="1" height="15"/><rect class="u" x="1150" y="304" width="1" height="14"/><rect class="r" x="1151" y="305" width="1" height="23"/><rect class="u" x="1153" y="310" width="1" height="19"/><rect class="r" x="1154" y="303" width="1" height="23"/>
<rect class="u" x="1155" y="300" width="1" height="12"/><rect class="u" x="1157" y="271" width="1" height="32"/><rect class="u" x="1159" y="271" width="1" height="21"/><rect class="u" x="1160" y="262" width="1" height="14"/><rect class="u" x="1162" y="257" width="1" height="10"/><rect class="u" x="1163" y="254" width="1" height="13"/><rect class="r" x="1165" y="246" width="1" height="16"/><rect class="u" x="1166" y="250" width="1" height="12"/>
<rect class="r" x="1168" y="253" width="1" height="18"/><rect class="r" x="1169" y="260" width="1" height="7"/><rect class="u" x="1171" y="255" width="1" height="12"/><rect class="u" x="1172" y="245" width="1" height="18"/><rect class="u" x="1173" y="240" width="1" height="22"/><rect class="r" x="1174" y="244" width="1" height="18"/><rect class="r" x="1176" y="252" width="1" height="14"/><rect class="u" x="1177" y="234" width="1" height="58"/>
<rect class="u" x="1179" y="216" width="1" height="33"/><rect class="u" x="1180" y="213" width="1" height="20"/><rect class="r" x="1182" y="220" width="1" height="17"/><rect class="u" x="1183" y="219" width="1" height="23"/><rect class="u" x="1185" y="216" width="1" height="16"/><rect class="r" x="1186" y="211" width="1" height="17"/><rect class="u" x="1188" y="208" width="1" height="24"/><rect class="u" x="1190" y="194" width="1" height="12"/>
<rect class="u" x="1191" y="169" width="1" height="32"/><rect class="r" x="1193" y="160" width="1" height="11"/><rect class="u" x="1194" y="164" width="1" height="8"/><rect class="r" x="1196" y="164" width="1" height="12"/><rect class="u" x="1198" y="161" width="1" height="12"/><rect class="u" x="1199" y="152" width="1" height="12"/><rect class="u" x="1201" y="109" width="1" height="43"/><rect class="u" x="1202" y="120" width="1" height="22"/>
<rect class="r" x="1204" y="116" width="1" height="26"/><rect class="u" x="1205" y="123" width="1" height="27"/><rect class="u" x="1207" y="122" width="1" height="16"/><rect class="u" x="1208" y="120" width="1" height="17"/><rect class="r" x="1210" y="121" width="1" height="24"/><rect class="u" x="1211" y="127" width="1" height="8"/><rect class="r" x="1212" y="128" width="1" height="14"/>
</g>
<text class="pl" x="1592.8" y="47.1">26400.0</text><text class="pl" x="1592.8" y="132.1">26200.0</text><text class="pl" x="1592.8" y="217.1">26000.0</text><text class="pl" x="1592.8" y="302.1">25800.0</text><text class="pl" x="1592.8" y="388.1">25600.0</text><text class="pl" x="1592.8" y="473.1">25400.0</text><text class="pl" x="1592.8" y="558.1">25200.0</text><text class="pl" x="1592.8" y="644.1">25000.0</text><text class="pl" x="1592.8" y="729.1">24800.0</text><text class="pl" x="1592.8" y="814.1">24600.0</text>
<text class="pl tl" x="109.5" y="853.6">11 Dec 25, 21:00</text><text class="pl tl" x="171.5" y="853.6">16 Dec 25, 15:00</text><text class="pl tl" x="306.5" y="853.6">19 Dec 25, 09:00</text><text class="pl tl" x="368.5" y="853.6">23 Dec 25, 03:00</text><text class="pl tl" x="464.5" y="853.6">26 Dec 25, 21:00</text><text class="pl tl" x="526.5" y="853.6">30 Dec 25, 15:00</text><text class="pl tl" x="688.5" y="853.6">7 Jan, 03:00</text><text class="pl tl" x="886.5" y="853.6">14 Jan, 15:00</text><text class="pl tl" x="1047.5" y="853.6">22 Jan, 03:00</text><text class="pl tl" x="1248.5" y="853.6">29 Jan, 15:00</text><text class="pl tl" x="1389.5" y="853.6">2 Feb, 09:00</text><text class="pl tl" x="1529.5" y="853.6">6 Feb, 03:00</text>
<rect x="0" y="105" width="1565" height="4" fill="#f1f1f7" shape-rendering="crispEdges"/><rect x="1565" y="98" width="56" height="18" fill="#ebebf2" shape-rendering="crispEdges"/><text class="bl" x="1592.9" y="111.5">26250.0</text>
<rect x="0" y="267" width="1565" height="4" fill="#fbfbfb" shape-rendering="crispEdges"/><rect x="1565" y="260" width="56" height="18" fill="#f2f2f2" shape-rendering="crispEdges"/><text class="bl" x="1592.9" y="273.5">25870.0</text>
<rect x="0" y="553" width="1565" height="4" fill="#fbfbfb" shape-rendering="crispEdges"/><rect x="1565" y="546" width="56" height="18" fill="#f2f2f2" shape-rendering="crispEdges"/><text class="bl" x="1592.9" y="559.5">25200.0</text>
<g fill="none" stroke="#ffffff" stroke-width="4.3" stroke-linejoin="miter" stroke-linecap="butt"><polyline points="1213.8,133.8 1231.5,113.3 1309.4,259.7"/><polyline points="1290.9,253.9 1309.9,260.2 1315.2,240.7"/></g>
</svg>
</body></html>
